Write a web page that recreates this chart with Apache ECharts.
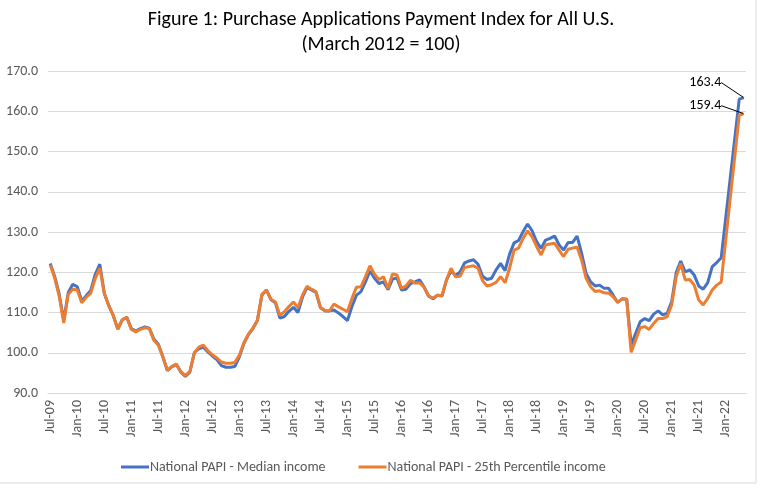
<!DOCTYPE html>
<html>
<head>
<meta charset="utf-8">
<script src="https://cdn.jsdelivr.net/npm/echarts@6/dist/echarts.min.js"></script>
<style>html,body{margin:0;padding:0;background:#fff}#c{width:762px;height:501px}</style>
</head>
<body>
<div id="c"></div>
<script>
// Month labels Jul-09 .. May-22
const MONTH_NAMES = ['Jan','Feb','Mar','Apr','May','Jun','Jul','Aug','Sep','Oct','Nov','Dec'];
const START_YEAR = 2009, START_MONTH = 6, N_MONTHS = 155;
const categories = [];
for (let k = 0; k < N_MONTHS; k++) {
  const m = (START_MONTH + k) % 12, y = START_YEAR + Math.floor((START_MONTH + k) / 12);
  categories.push(MONTH_NAMES[m] + '-' + String(y % 100).padStart(2, '0'));
}

const medianIncome = [
  122.2,118.9,114.5,108.0,115.0,117.0,116.4,112.8,114.2,115.5,119.5,122.0,
  114.8,111.7,109.2,105.9,108.2,108.8,106.0,105.4,106.0,106.4,106.1,103.4,
  102.1,99.0,95.6,96.5,97.1,95.2,94.1,95.2,100.0,101.0,101.4,100.2,
  99.2,98.3,96.8,96.4,96.4,96.6,99.0,102.3,104.5,106.0,108.0,114.3,
  115.6,113.2,112.4,108.6,109.0,110.3,111.3,110.0,113.8,116.2,115.6,115.0,
  111.2,110.4,110.4,110.6,109.9,109.0,108.0,111.5,114.3,115.2,117.6,120.3,
  118.5,117.2,117.6,115.7,118.3,118.6,115.6,115.8,117.2,117.6,118.1,116.4,
  114.1,113.4,114.3,114.1,118.1,120.3,119.2,120.1,122.3,122.8,123.1,122.0,
  119.0,118.2,118.5,120.6,122.2,120.4,124.5,127.3,127.9,130.1,132.0,130.3,
  127.6,125.9,128.0,128.4,129.0,126.8,125.5,127.4,127.4,129.0,124.7,119.7,
  117.6,116.6,116.8,116.0,116.0,114.3,112.5,113.4,113.3,102.0,104.8,107.7,
  108.5,108.0,109.6,110.4,109.4,109.8,112.7,119.9,122.8,120.1,120.6,119.3,
  116.6,115.8,117.4,121.4,122.4,123.6,133.5,143.4,153.2,163.0,163.4
];
const pct25Income = [
  121.8,118.5,114.0,107.4,114.5,115.8,115.6,112.4,113.8,114.8,118.5,121.0,
  114.8,111.7,109.2,105.9,108.2,108.8,105.8,105.2,105.8,106.2,106.0,103.1,
  101.9,99.0,95.7,96.6,97.2,95.3,94.3,95.4,100.0,101.4,101.9,100.5,
  99.5,98.7,97.7,97.4,97.4,97.6,99.4,102.5,104.6,106.1,108.1,114.5,
  115.6,113.3,112.6,109.3,110.2,111.5,112.6,111.2,114.3,116.5,115.8,115.2,
  111.3,110.5,110.4,112.1,111.4,110.8,110.2,113.5,116.3,116.4,118.9,121.6,
  119.5,118.2,118.9,116.0,119.6,119.3,116.0,116.6,118.0,117.3,117.4,116.3,
  114.1,113.6,114.3,114.2,118.1,121.0,118.9,119.0,121.2,121.4,121.6,121.0,
  117.9,116.6,116.9,117.5,118.9,117.4,121.0,125.5,126.0,128.4,130.3,128.8,
  126.4,124.3,126.8,127.0,127.2,125.5,123.9,125.7,126.0,126.2,123.0,118.5,
  116.4,115.2,115.4,114.9,114.8,113.9,112.5,113.4,113.3,100.1,103.2,106.2,
  106.5,105.8,107.3,108.5,108.5,109.0,111.9,118.9,122.2,118.1,118.2,116.8,
  113.1,111.9,113.5,115.6,116.8,117.6,128.0,138.4,148.7,159.0,159.4
];
const seriesNames = ['National PAPI - Median income', 'National PAPI - 25th Percentile income'];
const titleLines = ['Figure 1: Purchase Applications Payment Index for All U.S.', '(March 2012 = 100)'];

const FONT = 'Carlito, "Liberation Sans", Arial, sans-serif';
const GREY = '#595959';

function withLastLabel(arr, color) {
  return arr.map((v, i) => i === arr.length - 1
    ? { value: v, symbol: 'circle', symbolSize: 1, itemStyle: { color: color },
        label: { show: true }, labelLine: { show: true } }
    : v);
}

const chart = echarts.init(document.getElementById('c'), null, { renderer: 'canvas' });
chart.setOption({
  animation: false,
  backgroundColor: '#fff',
  title: {
    text: titleLines.join('\n'),
    left: 'center', top: 2,
    textStyle: { fontFamily: FONT, fontSize: 20, fontWeight: 'normal', color: '#000', lineHeight: 25 }
  },
  graphic: [{
    type: 'rect', shape: { x: -1, y: -1, width: 757, height: 484 },
    style: { fill: 'none', stroke: '#d9d9d9', lineWidth: 1 }, silent: true
  }],
  legend: {
    top: 455, left: 116,
    itemWidth: 28, itemHeight: 3, itemGap: 33,
    icon: 'rect',
    textStyle: { fontFamily: FONT, fontSize: 14, color: GREY, padding: [0, 0, 0, -4] },
    data: seriesNames
  },
  grid: { left: 48, right: 16, top: 71, bottom: 108 },
  xAxis: {
    type: 'category', data: categories, boundaryGap: true,
    axisLine: { lineStyle: { color: '#d9d9d9', width: 1 } },
    axisTick: { interval: 5, length: 5, lineStyle: { color: '#d9d9d9' } },
    axisLabel: { interval: 5, rotate: 90, margin: 7, fontFamily: FONT, fontSize: 14, color: GREY },
    splitLine: { show: false }
  },
  yAxis: {
    type: 'value', min: 90, max: 170, interval: 10,
    axisLine: { show: false }, axisTick: { show: false },
    axisLabel: { fontFamily: FONT, fontSize: 14, color: GREY, margin: 10, formatter: v => v.toFixed(1) },
    splitLine: { lineStyle: { color: '#d9d9d9', width: 1 } }
  },
  series: [
    {
      name: seriesNames[0], type: 'line', data: withLastLabel(medianIncome, '#4472C4'),
      showSymbol: true, showAllSymbol: true, symbol: 'none',
      lineStyle: { color: '#4472C4', width: 3 }, itemStyle: { color: '#4472C4' },
      label: { position: 'left', distance: 5, fontFamily: FONT, fontSize: 14, color: '#000', formatter: p => p.value.toFixed(1) },
      labelLine: { lineStyle: { color: '#000', width: 1 } },
      labelLayout: { dx: -17, dy: -15 },
      z: 2
    },
    {
      name: seriesNames[1], type: 'line', data: withLastLabel(pct25Income, '#ED7D31'),
      showSymbol: true, showAllSymbol: true, symbol: 'none',
      lineStyle: { color: '#ED7D31', width: 3 }, itemStyle: { color: '#ED7D31' },
      label: { position: 'left', distance: 5, fontFamily: FONT, fontSize: 14, color: '#000', formatter: p => p.value.toFixed(1) },
      labelLine: { lineStyle: { color: '#000', width: 1 } },
      labelLayout: { dx: -17, dy: -8 },
      z: 3
    }
  ]
});
</script>
</body>
</html>
